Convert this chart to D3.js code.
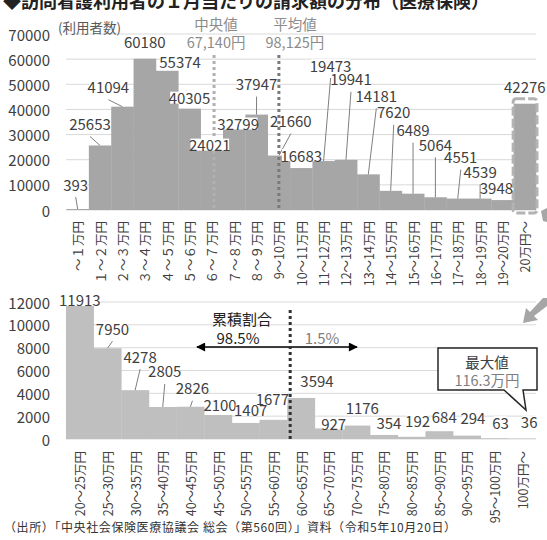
<!DOCTYPE html>
<html><head><meta charset="utf-8">
<script src="https://cdn.jsdelivr.net/npm/d3@7"></script>
<style>
html,body{margin:0;padding:0;background:#fff;}
svg{display:block;font-family:"Noto Sans CJK JP","Noto Sans",sans-serif;}
</style></head>
<body>
<script>
// ---------- data ----------
const title = "◆訪問看護利用者の１月当たりの請求額の分布（医療保険）";
const topCategories = ["～１万円","１～２万円","２～３万円","３～４万円","４～５万円","５～６万円","６～７万円","７～８万円","８～９万円","9～10万円","10～11万円","11～12万円","12～13万円","13～14万円","14～15万円","15～16万円","16～17万円","17～18万円","18～19万円","19～20万円","20万円～"];
const topValues = [393,25653,41094,60180,55374,40305,24021,32799,37947,21660,16683,19473,19941,14181,7620,6489,5064,4551,4539,3948,42276];
const topTicks = [0,10000,20000,30000,40000,50000,60000,70000];
const bottomCategories = ["20～25万円","25～30万円","30～35万円","35～40万円","40～45万円","45～50万円","50～55万円","55～60万円","60～65万円","65～70万円","70～75万円","75～80万円","80～85万円","85～90万円","90～95万円","95～100万円","100万円～"];
const bottomValues = [11913,7950,4278,2805,2826,2100,1407,1677,3594,927,1176,354,192,684,294,63,36];
const bottomTicks = [0,2000,4000,6000,8000,10000,12000];
const medianLabel = ["中央値","67,140円"];
const meanLabel = ["平均値","98,125円"];
const medianIndex = 6.6, meanIndex = 9.5; // position on category axis
const cumulative = ["累積割合","98.5%","1.5%"];
const maxLabel = ["最大値","116.3万円"];
const source = "（出所）「中央社会保険医療協議会 総会（第560回）」資料（令和5年10月20日）";

// label layout (offsets from bar top-centre), leader flags
const topLabelOff = [[-2,-25],[-10,-22],[-14,-20],[0,-17.5],[13,-9],[0,-11],[-2,-5],[4,-4],[0,-31],[12,-35],[0,-13],[7,-96],[5,-81],[8,-79],[3,-79],[0,-64],[0,-53],[3,-42],[0,-27],[-6,-13],[0,-17]];
const topLeader = [1,1,1,0,0,0,0,0,1,1,0,1,1,1,1,1,1,1,1,0,0];
const botLabelOff = [[0,-3],[5,-20],[5,-34],[2,-36],[2,-19],[2,-11],[5,-13],[-1,-21],[16,-17],[5,-5],[6,-18],[5,-12],[6,-16],[5,-15],[6,-18],[6,-16],[7,-17]];
const botLeader = [0,1,1,1,1,0,0,0,0,0,0,0,0,0,0,0,0];

const W = 547, H = 540;
const svg = d3.select("body").append("svg").attr("width",W).attr("height",H);
const FS = 15, TXT = "#404040";

// title
svg.append("text").attr("x",3).attr("y",7.5).attr("font-size",18).attr("font-weight","bold")
  .attr("fill","#222").text(title);

function addLabel(g, x, y, t, color){
  const gg = g.append("g");
  const tx = gg.append("text").attr("x",x).attr("y",y).attr("text-anchor","middle")
    .attr("dominant-baseline","central").attr("font-size",FS).attr("fill",color||TXT).text(t);
  const b = tx.node().getBBox();
  gg.insert("rect","text").attr("x",b.x+1.5).attr("y",y-6).attr("width",Math.max(0,b.width-3)).attr("height",12).attr("fill","#fff");
}

// ---------- top chart ----------
const xT = d3.scaleBand().domain(topCategories).range([66.5,536]).padding(0);
const yT = d3.scaleLinear().domain([0,70000]).range([210,34]);
const gT = svg.append("g");
gT.selectAll("line.grid").data(topTicks).join("line")
  .attr("x1",66).attr("x2",536).attr("y1",d=>yT(d)).attr("y2",d=>yT(d))
  .attr("stroke","#d9d9d9").attr("stroke-width",1);
gT.selectAll("text.tick").data(topTicks).join("text")
  .attr("x",50).attr("y",d=>yT(d)).attr("text-anchor","end").attr("dominant-baseline","central")
  .attr("font-size",FS).attr("fill",TXT).text(d=>d);
gT.append("text").attr("x",58).attr("y",27).attr("font-size",13.5).attr("fill","#595959")
  .attr("dominant-baseline","central").text("(利用者数)");
gT.selectAll("rect.bar").data(topValues).join("rect")
  .attr("x",(d,i)=>xT(topCategories[i])).attr("width",xT.bandwidth()+0.3)
  .attr("y",d=>yT(d)).attr("height",d=>yT(0)-yT(d)).attr("fill","#a6a6a6");
// highlight last bar
{
  const i = topValues.length-1;
  gT.append("rect").attr("x",xT(topCategories[i])-0.5).attr("width",xT.bandwidth()+1.5)
    .attr("y",yT(topValues[i])-5).attr("height",yT(0)-yT(topValues[i])+8).attr("rx",3)
    .attr("fill","none").attr("stroke","#b3b3b3").attr("stroke-width",3).attr("stroke-dasharray","9,3");
}
// x labels
gT.selectAll("text.xl").data(topCategories).join("text")
  .attr("transform",d=>`translate(${xT(d)+xT.bandwidth()/2},221) rotate(-90)`)
  .attr("text-anchor","end").attr("dominant-baseline","central").attr("font-size",12.5).attr("fill",TXT).text(d=>d);
// median line (under labels)
const xIdx = k => 66.5 + k*xT.step();
const medX = xIdx(medianIndex), meanX = xIdx(meanIndex);
gT.append("line").attr("x1",medX).attr("x2",medX).attr("y1",55).attr("y2",210)
  .attr("stroke","#b0b0b0").attr("stroke-width",3).attr("stroke-dasharray","3,3");
// leaders + labels
topValues.forEach((v,i)=>{
  const cx = xT(topCategories[i])+xT.bandwidth()/2, ty = yT(v);
  const lx = cx+topLabelOff[i][0], ly = ty+topLabelOff[i][1];
  if(topLeader[i]) gT.append("line").attr("x1",lx).attr("y1",ly+13).attr("x2",cx).attr("y2",ty)
    .attr("stroke","#7f7f7f").attr("stroke-width",1);
});
topValues.forEach((v,i)=>{
  const cx = xT(topCategories[i])+xT.bandwidth()/2, ty = yT(v);
  addLabel(gT, cx+topLabelOff[i][0], ty+topLabelOff[i][1], v);
});
// mean line (over labels)
gT.append("line").attr("x1",meanX).attr("x2",meanX).attr("y1",55).attr("y2",210)
  .attr("stroke","#7a7a7a").attr("stroke-width",3).attr("stroke-dasharray","3,3");
[[medX+2,medianLabel],[meanX+16,meanLabel]].forEach(([x,l])=>{
  gT.append("text").attr("x",x).attr("y",23).attr("text-anchor","middle").attr("dominant-baseline","central")
    .attr("font-size",14.5).attr("fill","#8c8c8c").text(l[0]);
  gT.append("text").attr("x",x).attr("y",41).attr("text-anchor","middle").attr("dominant-baseline","central")
    .attr("font-size",14.5).attr("fill","#8c8c8c").text(l[1]);
});
// decorative chevron
svg.append("path").attr("d","M541,211 L547,208 L547,222 L543,221 Z").attr("fill","#a6a6a6");

// ---------- bottom chart ----------
const xB = d3.scaleBand().domain(bottomCategories).range([66,536]).padding(0);
const yB = d3.scaleLinear().domain([0,12000]).range([439,302]);
const gB = svg.append("g");
gB.selectAll("line.grid").data(bottomTicks).join("line")
  .attr("x1",66).attr("x2",536).attr("y1",d=>yB(d)).attr("y2",d=>yB(d))
  .attr("stroke","#d9d9d9").attr("stroke-width",1);
gB.selectAll("text.tick").data(bottomTicks).join("text")
  .attr("x",50).attr("y",d=>yB(d)).attr("text-anchor","end").attr("dominant-baseline","central")
  .attr("font-size",FS).attr("fill",TXT).text(d=>d);
gB.selectAll("rect.bar").data(bottomValues).join("rect")
  .attr("x",(d,i)=>xB(bottomCategories[i])).attr("width",xB.bandwidth()+0.3)
  .attr("y",d=>yB(d)).attr("height",d=>yB(0)-yB(d)).attr("fill","#bfbfbf");
gB.selectAll("text.xl").data(bottomCategories).join("text")
  .attr("transform",d=>`translate(${xB(d)+xB.bandwidth()/2},451) rotate(-90)`)
  .attr("text-anchor","end").attr("dominant-baseline","central").attr("font-size",12.5).attr("fill",TXT).text(d=>d);
bottomValues.forEach((v,i)=>{
  const cx = xB(bottomCategories[i])+xB.bandwidth()/2, ty = yB(v);
  const lx = cx+botLabelOff[i][0], ly = ty+botLabelOff[i][1];
  if(botLeader[i]) gB.append("line").attr("x1",lx).attr("y1",ly+13).attr("x2",cx).attr("y2",ty)
    .attr("stroke","#7f7f7f").attr("stroke-width",1);
});
bottomValues.forEach((v,i)=>{
  const cx = xB(bottomCategories[i])+xB.bandwidth()/2, ty = yB(v);
  addLabel(gB, cx+botLabelOff[i][0], ty+botLabelOff[i][1], v);
});
// divider line between 55-60 and 60-65
const divX = xB(bottomCategories[8])+3;
// arrows
const defs = svg.append("defs");
defs.append("marker").attr("id","ah").attr("viewBox","0 0 10 10").attr("refX",9).attr("refY",5)
  .attr("markerWidth",8).attr("markerHeight",6).attr("orient","auto-start-reverse")
  .append("path").attr("d","M0,0 L10,5 L0,10 Z").attr("fill","#000");
gB.append("line").attr("x1",197).attr("x2",357).attr("y1",347).attr("y2",347)
  .attr("stroke","#000").attr("stroke-width",1.5)
  .attr("marker-start","url(#ah)").attr("marker-end","url(#ah)");
gB.append("line").attr("x1",divX).attr("x2",divX).attr("y1",310).attr("y2",441)
  .attr("stroke","#333").attr("stroke-width",3).attr("stroke-dasharray","3,3");
gB.append("text").attr("x",242).attr("y",318).attr("text-anchor","middle").attr("dominant-baseline","central")
  .attr("font-size",15).attr("fill","#222").text(cumulative[0]);
gB.append("text").attr("x",238).attr("y",337).attr("text-anchor","middle").attr("dominant-baseline","central")
  .attr("font-size",15).attr("fill","#222").text(cumulative[1]);
gB.append("text").attr("x",322).attr("y",337).attr("text-anchor","middle").attr("dominant-baseline","central")
  .attr("font-size",15).attr("fill","#7f7f7f").text(cumulative[2]);
// callout
gB.append("path").attr("d","M438,348 L537,348 L537,390 L523,390 L526,410 L504,390 L438,390 Z")
  .attr("fill","#fff").attr("stroke","#262626").attr("stroke-width",1.5).attr("stroke-linejoin","miter");
gB.append("text").attr("x",487).attr("y",361).attr("text-anchor","middle").attr("dominant-baseline","central")
  .attr("font-size",14.5).attr("fill","#404040").text(maxLabel[0]);
gB.append("text").attr("x",487).attr("y",379).attr("text-anchor","middle").attr("dominant-baseline","central")
  .attr("font-size",14.5).attr("fill","#7f7f7f").text(maxLabel[1]);
// decorative arrow
svg.append("path").attr("d","M547,298 L547,306 L534,316 L538,320 L523,323 L526,308 L530,312 L543,298 Z").attr("fill","#a6a6a6");

// source
svg.append("text").attr("x",4).attr("y",532).attr("font-size",12).attr("fill","#333")
  .attr("textLength",452).attr("lengthAdjust","spacing").text(source);
</script>
</body></html>
